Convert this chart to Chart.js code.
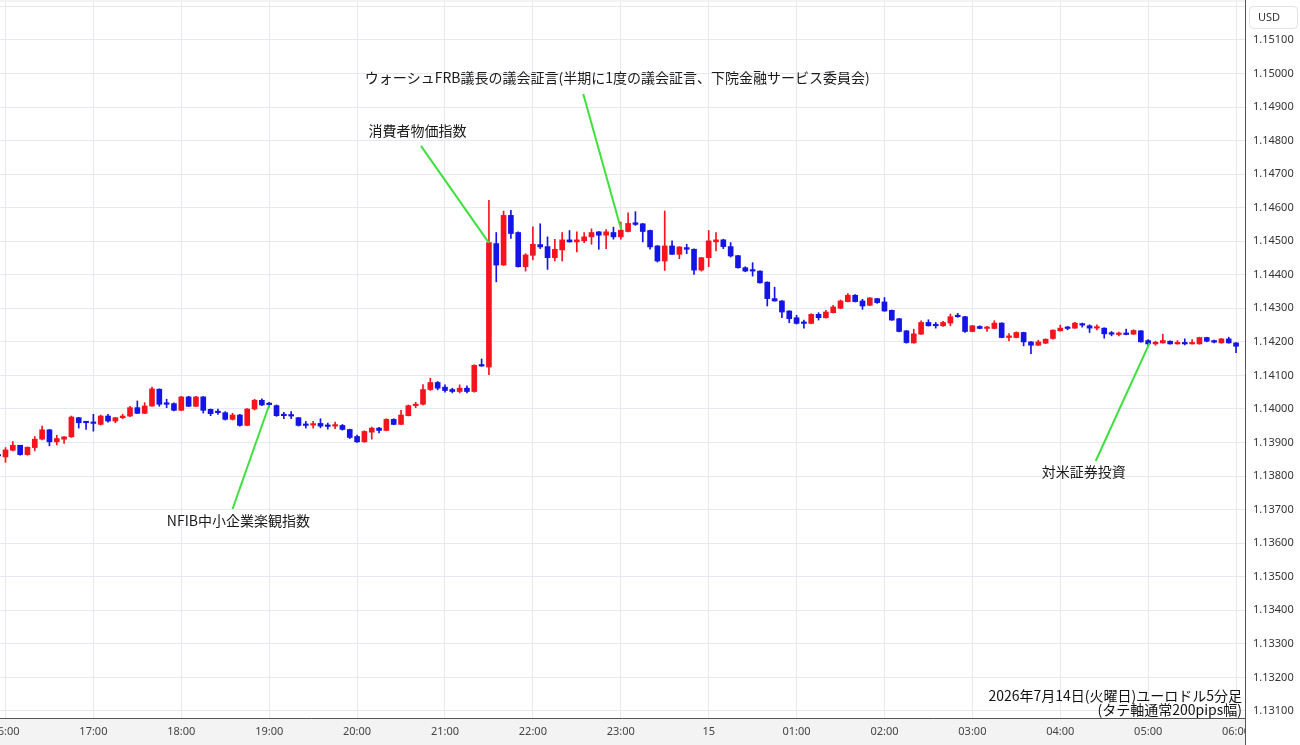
<!DOCTYPE html>
<html>
<head>
<meta charset="utf-8">
<script src="https://cdn.jsdelivr.net/npm/chart.js@4.4.1/dist/chart.umd.min.js"></script>
<style>
  html, body { margin: 0; padding: 0; background: #fff; }
  canvas { display: block; }
</style>
</head>
<body>
<canvas id="chart" width="1300" height="745"></canvas>
<script>
"use strict";

// 5分足 15:55 から 06:00 まで
const firstMinute = -5;   // 16:00 を 0 とした分
const stepMinutes = 5;

const opens = [
  1.13862, 1.13857, 1.13877, 1.13892, 1.13864, 1.13885, 1.13910, 1.13938, 1.13902, 1.13910,
  1.13917, 1.13974, 1.13961, 1.13959, 1.13954, 1.13979, 1.13964, 1.13974, 1.13979, 1.14004,
  1.13987, 1.14009, 1.14059, 1.14016, 1.14016, 1.13996, 1.14036, 1.14008, 1.14036, 1.13999,
  1.13992, 1.13989, 1.13969, 1.13982, 1.13951, 1.14000, 1.14026, 1.14016, 1.14010, 1.13982,
  1.13982, 1.13974, 1.13955, 1.13952, 1.13957, 1.13951, 1.13949, 1.13951, 1.13939, 1.13918,
  1.13902, 1.13931, 1.13943, 1.13936, 1.13969, 1.13954, 1.13980, 1.14010, 1.14014, 1.14058,
  1.14079, 1.14065, 1.14058, 1.14052, 1.14062, 1.14052, 1.14131, 1.14125, 1.14493, 1.14429,
  1.14577, 1.14526, 1.14424, 1.14458, 1.14490, 1.14484, 1.14451, 1.14474, 1.14504, 1.14498,
  1.14501, 1.14513, 1.14528, 1.14518, 1.14526, 1.14513, 1.14529, 1.14555, 1.14552, 1.14532,
  1.14486, 1.14441, 1.14486, 1.14461, 1.14481, 1.14476, 1.14414, 1.14451, 1.14498, 1.14504,
  1.14484, 1.14457, 1.14421, 1.14414, 1.14411, 1.14378, 1.14329, 1.14322, 1.14292, 1.14272,
  1.14257, 1.14255, 1.14282, 1.14272, 1.14287, 1.14300, 1.14320, 1.14339, 1.14322, 1.14309,
  1.14329, 1.14319, 1.14294, 1.14269, 1.14233, 1.14197, 1.14223, 1.14258, 1.14251, 1.14248,
  1.14256, 1.14278, 1.14275, 1.14231, 1.14246, 1.14240, 1.14240, 1.14256, 1.14213, 1.14213,
  1.14228, 1.14200, 1.14190, 1.14196, 1.14210, 1.14233, 1.14242, 1.14241, 1.14254, 1.14248,
  1.14241, 1.14241, 1.14226, 1.14222, 1.14224, 1.14223, 1.14233, 1.14204, 1.14194, 1.14197,
  1.14202, 1.14194, 1.14197, 1.14194, 1.14194, 1.14213, 1.14204, 1.14197, 1.14209, 1.14197
];
const highs = [
  1.13866, 1.13885, 1.13903, 1.13892, 1.13887, 1.13918, 1.13949, 1.13939, 1.13922, 1.13918,
  1.13979, 1.13975, 1.13962, 1.13984, 1.13982, 1.13984, 1.13975, 1.13984, 1.14008, 1.14024,
  1.14019, 1.14065, 1.14060, 1.14029, 1.14018, 1.14038, 1.14038, 1.14038, 1.14037, 1.14000,
  1.14000, 1.13992, 1.13987, 1.13984, 1.14001, 1.14029, 1.14030, 1.14020, 1.14012, 1.13990,
  1.13992, 1.13975, 1.13963, 1.13963, 1.13971, 1.13958, 1.13961, 1.13954, 1.13940, 1.13922,
  1.13935, 1.13946, 1.13945, 1.13971, 1.13971, 1.13996, 1.14012, 1.14020, 1.14073, 1.14092,
  1.14082, 1.14072, 1.14062, 1.14072, 1.14069, 1.14132, 1.14149, 1.14622, 1.14526, 1.14590,
  1.14592, 1.14528, 1.14463, 1.14543, 1.14552, 1.14513, 1.14506, 1.14526, 1.14532, 1.14528,
  1.14526, 1.14537, 1.14529, 1.14535, 1.14542, 1.14557, 1.14585, 1.14588, 1.14553, 1.14533,
  1.14487, 1.14590, 1.14501, 1.14484, 1.14491, 1.14477, 1.14452, 1.14532, 1.14526, 1.14506,
  1.14496, 1.14458, 1.14424, 1.14436, 1.14412, 1.14379, 1.14363, 1.14323, 1.14293, 1.14279,
  1.14265, 1.14284, 1.14287, 1.14294, 1.14309, 1.14325, 1.14344, 1.14341, 1.14327, 1.14332,
  1.14330, 1.14332, 1.14295, 1.14270, 1.14234, 1.14238, 1.14263, 1.14266, 1.14258, 1.14261,
  1.14283, 1.14285, 1.14276, 1.14249, 1.14248, 1.14246, 1.14263, 1.14257, 1.14225, 1.14230,
  1.14229, 1.14201, 1.14205, 1.14209, 1.14236, 1.14250, 1.14246, 1.14258, 1.14256, 1.14251,
  1.14251, 1.14242, 1.14231, 1.14229, 1.14238, 1.14236, 1.14234, 1.14207, 1.14202, 1.14223,
  1.14203, 1.14204, 1.14209, 1.14207, 1.14214, 1.14214, 1.14205, 1.14210, 1.14214, 1.14198
];
const lows = [
  1.13855, 1.13841, 1.13875, 1.13862, 1.13862, 1.13875, 1.13908, 1.13890, 1.13893, 1.13897,
  1.13915, 1.13943, 1.13939, 1.13934, 1.13952, 1.13961, 1.13959, 1.13971, 1.13977, 1.13986,
  1.13986, 1.14008, 1.14008, 1.14004, 1.13994, 1.13995, 1.14007, 1.14007, 1.13988, 1.13980,
  1.13984, 1.13967, 1.13967, 1.13949, 1.13950, 1.13997, 1.14010, 1.14006, 1.13978, 1.13971,
  1.13971, 1.13949, 1.13943, 1.13943, 1.13944, 1.13940, 1.13941, 1.13937, 1.13912, 1.13900,
  1.13901, 1.13910, 1.13929, 1.13935, 1.13953, 1.13953, 1.13979, 1.14004, 1.14012, 1.14055,
  1.14057, 1.14050, 1.14048, 1.14048, 1.14048, 1.14050, 1.14127, 1.14102, 1.14379, 1.14428,
  1.14508, 1.14423, 1.14411, 1.14444, 1.14478, 1.14416, 1.14441, 1.14441, 1.14497, 1.14468,
  1.14496, 1.14491, 1.14476, 1.14478, 1.14506, 1.14506, 1.14528, 1.14547, 1.14498, 1.14476,
  1.14438, 1.14413, 1.14460, 1.14448, 1.14463, 1.14401, 1.14411, 1.14424, 1.14471, 1.14478,
  1.14453, 1.14420, 1.14409, 1.14396, 1.14375, 1.14307, 1.14321, 1.14272, 1.14257, 1.14253,
  1.14241, 1.14254, 1.14265, 1.14271, 1.14286, 1.14299, 1.14319, 1.14319, 1.14297, 1.14308,
  1.14315, 1.14291, 1.14264, 1.14230, 1.14196, 1.14196, 1.14222, 1.14247, 1.14241, 1.14246,
  1.14248, 1.14273, 1.14228, 1.14230, 1.14239, 1.14231, 1.14239, 1.14212, 1.14203, 1.14212,
  1.14188, 1.14165, 1.14189, 1.14195, 1.14208, 1.14232, 1.14236, 1.14240, 1.14244, 1.14228,
  1.14236, 1.14211, 1.14218, 1.14218, 1.14221, 1.14222, 1.14199, 1.14187, 1.14190, 1.14196,
  1.14193, 1.14193, 1.14191, 1.14193, 1.14193, 1.14200, 1.14197, 1.14196, 1.14196, 1.14168
];
const closes = [
  1.13860, 1.13878, 1.13892, 1.13864, 1.13886, 1.13910, 1.13938, 1.13902, 1.13912, 1.13917,
  1.13976, 1.13959, 1.13959, 1.13957, 1.13979, 1.13964, 1.13974, 1.13979, 1.14004, 1.13987,
  1.14009, 1.14060, 1.14014, 1.14014, 1.13996, 1.14036, 1.14008, 1.14036, 1.13996, 1.13986,
  1.13989, 1.13969, 1.13982, 1.13951, 1.14000, 1.14026, 1.14012, 1.14013, 1.13980, 1.13980,
  1.13979, 1.13951, 1.13951, 1.13955, 1.13949, 1.13948, 1.13953, 1.13939, 1.13915, 1.13902,
  1.13933, 1.13943, 1.13936, 1.13969, 1.13954, 1.13982, 1.14010, 1.14014, 1.14058, 1.14079,
  1.14062, 1.14055, 1.14052, 1.14062, 1.14052, 1.14130, 1.14128, 1.14496, 1.14429, 1.14577,
  1.14523, 1.14424, 1.14459, 1.14491, 1.14483, 1.14451, 1.14476, 1.14504, 1.14498, 1.14504,
  1.14513, 1.14526, 1.14518, 1.14528, 1.14513, 1.14533, 1.14553, 1.14550, 1.14529, 1.14483,
  1.14441, 1.14486, 1.14461, 1.14483, 1.14476, 1.14414, 1.14451, 1.14501, 1.14504, 1.14484,
  1.14456, 1.14421, 1.14411, 1.14411, 1.14376, 1.14329, 1.14322, 1.14289, 1.14269, 1.14255,
  1.14255, 1.14282, 1.14272, 1.14289, 1.14304, 1.14322, 1.14339, 1.14320, 1.14307, 1.14331,
  1.14317, 1.14292, 1.14265, 1.14231, 1.14198, 1.14224, 1.14258, 1.14248, 1.14248, 1.14258,
  1.14275, 1.14275, 1.14231, 1.14248, 1.14240, 1.14243, 1.14256, 1.14213, 1.14218, 1.14228,
  1.14200, 1.14190, 1.14200, 1.14208, 1.14235, 1.14241, 1.14240, 1.14256, 1.14250, 1.14241,
  1.14244, 1.14224, 1.14223, 1.14224, 1.14222, 1.14234, 1.14200, 1.14194, 1.14199, 1.14204,
  1.14194, 1.14197, 1.14194, 1.14197, 1.14213, 1.14202, 1.14199, 1.14209, 1.14197, 1.14187
];

// 時間軸のラベル (16:00 から1時間ごと)
const hourLabels = ['16:00', '17:00', '18:00', '19:00', '20:00', '21:00', '22:00', '23:00',
  '15', '01:00', '02:00', '03:00', '04:00', '05:00', '06:00'];
// 価格軸
const priceTicks = [1.131, 1.132, 1.133, 1.134, 1.135, 1.136, 1.137, 1.138, 1.139, 1.140, 1.141,
  1.142, 1.143, 1.144, 1.145, 1.146, 1.147, 1.148, 1.149, 1.150, 1.151, 1.152];

// イベント注記 (分, 価格)
const notes = [
  { text: 'NFIB中小企業楽観指数', fromM: 155, fromP: 1.13702, toM: 180, toP: 1.14012, textM: 159, textP: 1.13666 },
  { text: '消費者物価指数', fromM: 283.6, fromP: 1.14784, toM: 330, toP: 1.14495, textM: 281.2, textP: 1.14829 },
  { text: 'ウォーシュFRB議長の議会証言(半期に1度の議会証言、下院金融サービス委員会)', fromM: 394.4, fromP: 1.14939, toM: 420.3, toP: 1.14534, textM: 417.6, textP: 1.14987 },
  { text: '対米証券投資', fromM: 744.2, fromP: 1.13845, toM: 781, toP: 1.14197, textM: 736, textP: 1.13812 }
];
const titleLines = ['2026年7月14日(火曜日)ユーロドル5分足', '(タテ軸通常200pips幅)'];

const UP = '#f5141e';
const DOWN = '#1414e6';
const GRID = '#e4eaf0';
const JP_FONT = "'Noto Sans CJK JP', 'Noto Sans', sans-serif";

const xs = opens.map((_, i) => firstMinute + i * stepMinutes);
const candleColor = ctx => closes[ctx.dataIndex] >= opens[ctx.dataIndex] ? UP : DOWN;

const frame = {
  id: 'frame',
  beforeDraw(chart) {
    const { ctx, chartArea: a, width, height } = chart;
    ctx.save();
    ctx.fillStyle = '#ffffff';
    ctx.fillRect(0, 0, width, height);
    ctx.fillStyle = '#f3f3f3';
    ctx.fillRect(0, a.bottom, a.right, height - a.bottom);
    ctx.fillRect(0, 0, a.right, a.top);
    ctx.restore();
  },
  afterDraw(chart) {
    const { ctx, chartArea: a, height } = chart;
    const xS = chart.scales.x, yS = chart.scales.y;
    ctx.save();

    // 注記の線
    ctx.strokeStyle = '#3ee03e';
    ctx.lineWidth = 2;
    notes.forEach(n => {
      ctx.beginPath();
      ctx.moveTo(xS.getPixelForValue(n.fromM), yS.getPixelForValue(n.fromP));
      ctx.lineTo(xS.getPixelForValue(n.toM), yS.getPixelForValue(n.toP));
      ctx.stroke();
    });
    ctx.fillStyle = '#1a1a1a';
    ctx.font = '14px ' + JP_FONT;
    ctx.textAlign = 'center';
    ctx.textBaseline = 'middle';
    notes.forEach(n => {
      ctx.fillText(n.text, xS.getPixelForValue(n.textM), yS.getPixelForValue(n.textP));
    });

    // 右下のタイトル
    ctx.textAlign = 'right';
    ctx.fillStyle = '#111';
    ctx.fillText(titleLines[0], a.right - 3, a.bottom - 22);
    ctx.fillText(titleLines[1], a.right - 3, a.bottom - 8);

    // 軸線
    ctx.strokeStyle = '#555';
    ctx.lineWidth = 1;
    ctx.beginPath();
    ctx.moveTo(0, a.bottom + 0.5);
    ctx.lineTo(a.right, a.bottom + 0.5);
    ctx.moveTo(a.right + 0.5, 0);
    ctx.lineTo(a.right + 0.5, height);
    ctx.stroke();

    // 時間ラベル
    ctx.save();
    ctx.beginPath();
    ctx.rect(0, a.bottom + 1, a.right, height - a.bottom);
    ctx.clip();
    ctx.font = "11px 'Noto Sans', sans-serif";
    ctx.textAlign = 'center';
    ctx.fillStyle = '#444';
    hourLabels.forEach((lab, i) => {
      ctx.fillText(lab, xS.getPixelForValue(i * 60), a.bottom + 14);
    });
    ctx.restore();

    // USD
    ctx.fillStyle = '#fff';
    ctx.strokeStyle = '#e2e2e2';
    ctx.beginPath();
    ctx.roundRect(a.right + 4.5, 6.5, 48, 22, 4);
    ctx.fill();
    ctx.stroke();
    ctx.fillStyle = '#333';
    ctx.font = "11px 'Noto Sans', sans-serif";
    ctx.textAlign = 'center';
    ctx.fillText('USD', a.right + 24, 17.5);
    ctx.restore();
  }
};

new Chart(document.getElementById('chart'), {
  type: 'bar',
  data: {
    datasets: [
      {
        label: 'body',
        data: xs.map((x, i) => ({ x: x, y: [opens[i], closes[i]] })),
        backgroundColor: candleColor,
        barThickness: 5,
        minBarLength: 1.5,
        grouped: false,
        order: 0
      },
      {
        label: 'wick',
        data: xs.map((x, i) => ({ x: x, y: [lows[i], highs[i]] })),
        backgroundColor: candleColor,
        barThickness: 1,
        grouped: false,
        order: 1
      }
    ]
  },
  options: {
    responsive: false,
    animation: false,
    devicePixelRatio: 1,
    layout: { padding: { top: 2, left: 0, right: 0, bottom: 0 } },
    plugins: {
      legend: { display: false },
      tooltip: { enabled: false }
    },
    scales: {
      x: {
        type: 'linear',
        offset: false,
        min: -3.75,
        max: 846.1,
        afterBuildTicks: s => { s.ticks = hourLabels.map((_, i) => ({ value: i * 60 })); },
        afterFit: s => { s.height = 27; s.paddingLeft = 0; s.paddingRight = 0; },
        ticks: { display: false },
        grid: { color: GRID, drawTicks: false, offset: false },
        border: { display: false }
      },
      y: {
        type: 'linear',
        position: 'right',
        min: 1.13079,
        max: 1.15213,
        afterBuildTicks: s => { s.ticks = priceTicks.map(v => ({ value: v })); },
        afterFit: s => { s.width = 55; s.paddingTop = 0; s.paddingBottom = 0; },
        ticks: {
          padding: 8,
          color: '#333',
          font: { family: "'Noto Sans', sans-serif", size: 11 },
          callback: v => (v > 1.1515 ? '' : v.toFixed(5))
        },
        grid: { color: GRID, drawTicks: false },
        border: { display: false }
      }
    }
  },
  plugins: [frame]
});
</script>
</body>
</html>
